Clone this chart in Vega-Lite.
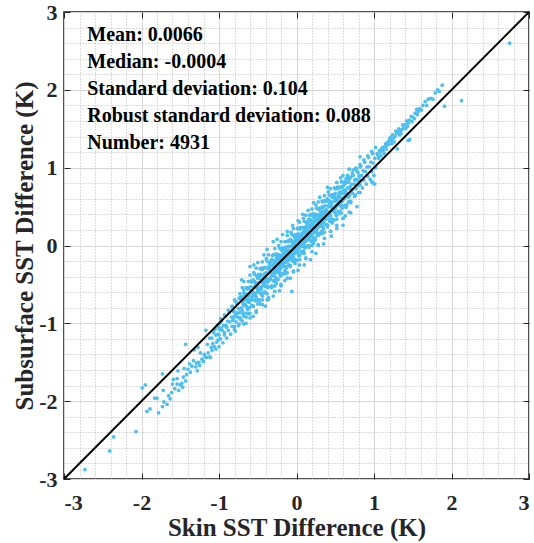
{
  "$schema": "https://vega.github.io/schema/vega-lite/v6.json",
  "width": 465,
  "height": 467,
  "autosize": {"type": "none"},
  "padding": {"left": 64, "top": 12, "right": 5, "bottom": 64},
  "background": "white",
  "config": {
    "view": {"stroke": "#1a1a1a", "strokeWidth": 1.5}
  },
  "datasets": {
    "pts": [
      {"x":-0.60,"y":-0.87},{"x":-0.58,"y":-0.77},{"x":-0.61,"y":-0.71},{"x":-0.58,"y":-0.67},{"x":-0.62,"y":-0.64},{"x":-0.59,"y":-0.60},{"x":-0.62,"y":-0.54},{"x":-0.59,"y":-0.46},
      {"x":-0.56,"y":-0.78},{"x":-0.54,"y":-0.70},{"x":-0.57,"y":-0.65},{"x":-0.54,"y":-0.61},{"x":-0.58,"y":-0.58},{"x":-0.55,"y":-0.53},{"x":-0.58,"y":-0.47},{"x":-0.55,"y":-0.35},
      {"x":-0.52,"y":-0.86},{"x":-0.50,"y":-0.70},{"x":-0.53,"y":-0.63},{"x":-0.50,"y":-0.59},{"x":-0.54,"y":-0.54},{"x":-0.51,"y":-0.50},{"x":-0.54,"y":-0.46},{"x":-0.51,"y":-0.40},
      {"x":-0.48,"y":-0.71},{"x":-0.46,"y":-0.62},{"x":-0.49,"y":-0.57},{"x":-0.46,"y":-0.53},{"x":-0.50,"y":-0.48},{"x":-0.47,"y":-0.43},{"x":-0.50,"y":-0.39},{"x":-0.47,"y":-0.30},
      {"x":-0.44,"y":-0.70},{"x":-0.42,"y":-0.60},{"x":-0.45,"y":-0.54},{"x":-0.42,"y":-0.50},{"x":-0.46,"y":-0.47},{"x":-0.43,"y":-0.43},{"x":-0.46,"y":-0.37},{"x":-0.43,"y":-0.29},
      {"x":-0.40,"y":-0.60},{"x":-0.38,"y":-0.52},{"x":-0.41,"y":-0.47},{"x":-0.38,"y":-0.43},{"x":-0.42,"y":-0.40},{"x":-0.39,"y":-0.35},{"x":-0.42,"y":-0.29},{"x":-0.39,"y":-0.17},
      {"x":-0.36,"y":-0.69},{"x":-0.34,"y":-0.53},{"x":-0.37,"y":-0.46},{"x":-0.34,"y":-0.42},{"x":-0.38,"y":-0.37},{"x":-0.35,"y":-0.33},{"x":-0.38,"y":-0.29},{"x":-0.35,"y":-0.23},
      {"x":-0.32,"y":-0.54},{"x":-0.30,"y":-0.45},{"x":-0.33,"y":-0.40},{"x":-0.30,"y":-0.36},{"x":-0.34,"y":-0.31},{"x":-0.31,"y":-0.26},{"x":-0.34,"y":-0.22},{"x":-0.31,"y":-0.13},
      {"x":-0.28,"y":-0.52},{"x":-0.26,"y":-0.42},{"x":-0.29,"y":-0.36},{"x":-0.26,"y":-0.32},{"x":-0.30,"y":-0.29},{"x":-0.27,"y":-0.25},{"x":-0.30,"y":-0.19},{"x":-0.27,"y":-0.11},
      {"x":-0.24,"y":-0.43},{"x":-0.22,"y":-0.35},{"x":-0.25,"y":-0.30},{"x":-0.22,"y":-0.26},{"x":-0.26,"y":-0.23},{"x":-0.23,"y":-0.18},{"x":-0.26,"y":-0.12},{"x":-0.23,"y":0.00},
      {"x":-0.20,"y":-0.52},{"x":-0.18,"y":-0.36},{"x":-0.21,"y":-0.29},{"x":-0.18,"y":-0.25},{"x":-0.22,"y":-0.20},{"x":-0.19,"y":-0.16},{"x":-0.22,"y":-0.12},{"x":-0.19,"y":-0.06},
      {"x":-0.16,"y":-0.36},{"x":-0.14,"y":-0.27},{"x":-0.17,"y":-0.22},{"x":-0.14,"y":-0.18},{"x":-0.18,"y":-0.13},{"x":-0.15,"y":-0.08},{"x":-0.18,"y":-0.04},{"x":-0.15,"y":0.05},
      {"x":-0.12,"y":-0.35},{"x":-0.10,"y":-0.25},{"x":-0.13,"y":-0.19},{"x":-0.10,"y":-0.15},{"x":-0.14,"y":-0.12},{"x":-0.11,"y":-0.08},{"x":-0.14,"y":-0.02},{"x":-0.11,"y":0.06},
      {"x":-0.08,"y":-0.26},{"x":-0.06,"y":-0.18},{"x":-0.09,"y":-0.13},{"x":-0.06,"y":-0.09},{"x":-0.10,"y":-0.06},{"x":-0.07,"y":-0.01},{"x":-0.10,"y":0.05},{"x":-0.07,"y":0.17},
      {"x":-0.04,"y":-0.34},{"x":-0.02,"y":-0.18},{"x":-0.05,"y":-0.11},{"x":-0.02,"y":-0.07},{"x":-0.06,"y":-0.02},{"x":-0.03,"y":0.02},{"x":-0.06,"y":0.06},{"x":-0.03,"y":0.12},
      {"x":0.00,"y":-0.19},{"x":0.02,"y":-0.10},{"x":-0.01,"y":-0.05},{"x":0.02,"y":-0.01},{"x":-0.02,"y":0.04},{"x":0.01,"y":0.09},{"x":-0.02,"y":0.13},{"x":0.01,"y":0.22},
      {"x":0.04,"y":-0.18},{"x":0.06,"y":-0.08},{"x":0.03,"y":-0.02},{"x":0.06,"y":0.02},{"x":0.02,"y":0.05},{"x":0.05,"y":0.09},{"x":0.02,"y":0.15},{"x":0.05,"y":0.23},
      {"x":0.08,"y":-0.08},{"x":0.10,"y":0.00},{"x":0.07,"y":0.05},{"x":0.10,"y":0.09},{"x":0.06,"y":0.12},{"x":0.09,"y":0.17},{"x":0.06,"y":0.23},{"x":0.09,"y":0.35},
      {"x":0.12,"y":-0.17},{"x":0.14,"y":-0.01},{"x":0.11,"y":0.06},{"x":0.14,"y":0.10},{"x":0.10,"y":0.15},{"x":0.13,"y":0.19},{"x":0.10,"y":0.23},{"x":0.13,"y":0.29},
      {"x":0.16,"y":-0.02},{"x":0.18,"y":0.07},{"x":0.15,"y":0.12},{"x":0.18,"y":0.16},{"x":0.14,"y":0.21},{"x":0.17,"y":0.26},{"x":0.14,"y":0.30},{"x":0.17,"y":0.39},
      {"x":0.20,"y":0.00},{"x":0.22,"y":0.10},{"x":0.19,"y":0.16},{"x":0.22,"y":0.20},{"x":0.18,"y":0.23},{"x":0.21,"y":0.27},{"x":0.18,"y":0.33},{"x":0.21,"y":0.41},
      {"x":0.24,"y":0.09},{"x":0.26,"y":0.17},{"x":0.23,"y":0.22},{"x":0.26,"y":0.26},{"x":0.22,"y":0.29},{"x":0.25,"y":0.34},{"x":0.22,"y":0.40},{"x":0.25,"y":0.52},
      {"x":0.28,"y":0.00},{"x":0.30,"y":0.16},{"x":0.27,"y":0.23},{"x":0.30,"y":0.27},{"x":0.26,"y":0.32},{"x":0.29,"y":0.36},{"x":0.26,"y":0.40},{"x":0.29,"y":0.46},
      {"x":0.32,"y":0.16},{"x":0.34,"y":0.25},{"x":0.31,"y":0.30},{"x":0.34,"y":0.34},{"x":0.30,"y":0.39},{"x":0.33,"y":0.44},{"x":0.30,"y":0.48},{"x":0.33,"y":0.57},
      {"x":0.36,"y":0.17},{"x":0.38,"y":0.27},{"x":0.35,"y":0.33},{"x":0.38,"y":0.37},{"x":0.34,"y":0.40},{"x":0.37,"y":0.44},{"x":0.34,"y":0.50},{"x":0.37,"y":0.58},
      {"x":0.40,"y":0.26},{"x":0.42,"y":0.34},{"x":0.39,"y":0.39},{"x":0.42,"y":0.43},{"x":0.38,"y":0.46},{"x":0.41,"y":0.51},{"x":0.38,"y":0.57},{"x":0.41,"y":0.69},
      {"x":0.44,"y":0.18},{"x":0.46,"y":0.34},{"x":0.43,"y":0.41},{"x":0.46,"y":0.45},{"x":0.42,"y":0.50},{"x":0.45,"y":0.54},{"x":0.42,"y":0.58},{"x":0.45,"y":0.64},
      {"x":0.48,"y":0.33},{"x":0.50,"y":0.42},{"x":0.47,"y":0.47},{"x":0.50,"y":0.51},{"x":0.46,"y":0.56},{"x":0.49,"y":0.61},{"x":0.46,"y":0.65},{"x":0.49,"y":0.74},
      {"x":0.52,"y":0.34},{"x":0.54,"y":0.44},{"x":0.51,"y":0.50},{"x":0.54,"y":0.54},{"x":0.50,"y":0.57},{"x":0.53,"y":0.61},{"x":0.50,"y":0.67},{"x":0.53,"y":0.75},
      {"x":0.56,"y":0.44},{"x":0.58,"y":0.52},{"x":0.55,"y":0.57},{"x":0.58,"y":0.61},{"x":0.54,"y":0.64},{"x":0.57,"y":0.69},{"x":0.54,"y":0.75},{"x":0.57,"y":0.87},
      {"x":0.60,"y":0.35},{"x":0.62,"y":0.51},{"x":0.59,"y":0.58},{"x":0.62,"y":0.62},{"x":0.58,"y":0.67},{"x":0.61,"y":0.71},{"x":0.58,"y":0.75},{"x":0.61,"y":0.81},
      {"x":-0.27,"y":-0.45},{"x":-0.29,"y":-0.39},{"x":-0.26,"y":-0.35},{"x":-0.28,"y":-0.32},{"x":-0.27,"y":-0.29},{"x":-0.29,"y":-0.25},{"x":-0.26,"y":-0.20},
      {"x":-0.21,"y":-0.39},{"x":-0.23,"y":-0.33},{"x":-0.20,"y":-0.29},{"x":-0.22,"y":-0.26},{"x":-0.21,"y":-0.23},{"x":-0.23,"y":-0.19},{"x":-0.20,"y":-0.14},
      {"x":-0.15,"y":-0.32},{"x":-0.17,"y":-0.26},{"x":-0.14,"y":-0.22},{"x":-0.16,"y":-0.19},{"x":-0.15,"y":-0.16},{"x":-0.17,"y":-0.12},{"x":-0.14,"y":-0.07},
      {"x":-0.09,"y":-0.26},{"x":-0.11,"y":-0.20},{"x":-0.08,"y":-0.16},{"x":-0.10,"y":-0.13},{"x":-0.09,"y":-0.10},{"x":-0.11,"y":-0.06},{"x":-0.08,"y":-0.01},
      {"x":-0.03,"y":-0.20},{"x":-0.05,"y":-0.14},{"x":-0.02,"y":-0.10},{"x":-0.04,"y":-0.07},{"x":-0.03,"y":-0.04},{"x":-0.05,"y":0.00},{"x":-0.02,"y":0.06},
      {"x":0.03,"y":-0.13},{"x":0.01,"y":-0.07},{"x":0.04,"y":-0.03},{"x":0.02,"y":0.00},{"x":0.03,"y":0.03},{"x":0.01,"y":0.07},{"x":0.04,"y":0.12},
      {"x":0.09,"y":-0.07},{"x":0.07,"y":-0.01},{"x":0.10,"y":0.04},{"x":0.08,"y":0.07},{"x":0.09,"y":0.10},{"x":0.07,"y":0.14},{"x":0.10,"y":0.19},
      {"x":0.15,"y":0.00},{"x":0.13,"y":0.06},{"x":0.16,"y":0.10},{"x":0.14,"y":0.13},{"x":0.15,"y":0.16},{"x":0.13,"y":0.20},{"x":0.16,"y":0.25},
      {"x":0.21,"y":0.06},{"x":0.19,"y":0.12},{"x":0.22,"y":0.16},{"x":0.20,"y":0.19},{"x":0.21,"y":0.22},{"x":0.19,"y":0.26},{"x":0.22,"y":0.31},
      {"x":0.27,"y":0.13},{"x":0.25,"y":0.19},{"x":0.28,"y":0.23},{"x":0.26,"y":0.26},{"x":0.27,"y":0.29},{"x":0.25,"y":0.33},{"x":0.28,"y":0.38},
      {"x":0.33,"y":0.19},{"x":0.31,"y":0.25},{"x":0.34,"y":0.29},{"x":0.32,"y":0.32},{"x":0.33,"y":0.35},{"x":0.31,"y":0.39},{"x":0.34,"y":0.44},
      {"x":-0.80,"y":-1.04},{"x":-0.82,"y":-0.96},{"x":-0.79,"y":-0.90},{"x":-0.81,"y":-0.85},{"x":-0.83,"y":-0.79},{"x":-0.80,"y":-0.70},
      {"x":-0.74,"y":-1.01},{"x":-0.76,"y":-0.92},{"x":-0.73,"y":-0.86},{"x":-0.75,"y":-0.81},{"x":-0.77,"y":-0.75},{"x":-0.74,"y":-0.68},
      {"x":-0.68,"y":-0.91},{"x":-0.70,"y":-0.83},{"x":-0.67,"y":-0.77},{"x":-0.69,"y":-0.72},{"x":-0.71,"y":-0.66},{"x":-0.68,"y":-0.57},
      {"x":-0.62,"y":-0.88},{"x":-0.64,"y":-0.79},{"x":-0.61,"y":-0.73},{"x":-0.63,"y":-0.68},{"x":-0.65,"y":-0.62},{"x":-0.62,"y":-0.55},
      {"x":-0.56,"y":-0.78},{"x":-0.58,"y":-0.70},{"x":-0.55,"y":-0.64},{"x":-0.57,"y":-0.59},{"x":-0.59,"y":-0.53},{"x":-0.56,"y":-0.44},
      {"x":-0.50,"y":-0.75},{"x":-0.52,"y":-0.66},{"x":-0.49,"y":-0.60},{"x":-0.51,"y":-0.55},{"x":-0.53,"y":-0.49},{"x":-0.50,"y":-0.42},
      {"x":-0.44,"y":-0.65},{"x":-0.46,"y":-0.57},{"x":-0.43,"y":-0.51},{"x":-0.45,"y":-0.46},{"x":-0.47,"y":-0.40},{"x":-0.44,"y":-0.31},
      {"x":-0.38,"y":-0.62},{"x":-0.40,"y":-0.53},{"x":-0.37,"y":-0.47},{"x":-0.39,"y":-0.42},{"x":-0.41,"y":-0.36},{"x":-0.38,"y":-0.29},
      {"x":-0.32,"y":-0.52},{"x":-0.34,"y":-0.44},{"x":-0.31,"y":-0.38},{"x":-0.33,"y":-0.33},{"x":-0.35,"y":-0.27},{"x":-0.32,"y":-0.18},
      {"x":-0.26,"y":-0.49},{"x":-0.28,"y":-0.40},{"x":-0.25,"y":-0.34},{"x":-0.27,"y":-0.29},{"x":-0.29,"y":-0.23},{"x":-0.26,"y":-0.16},
      {"x":-0.20,"y":-0.39},{"x":-0.22,"y":-0.31},{"x":-0.19,"y":-0.25},{"x":-0.21,"y":-0.20},{"x":-0.23,"y":-0.14},{"x":-0.20,"y":-0.05},
      {"x":-0.14,"y":-0.36},{"x":-0.16,"y":-0.27},{"x":-0.13,"y":-0.21},{"x":-0.15,"y":-0.16},{"x":-0.17,"y":-0.10},{"x":-0.14,"y":-0.03},
      {"x":-0.08,"y":-0.26},{"x":-0.10,"y":-0.18},{"x":-0.07,"y":-0.12},{"x":-0.09,"y":-0.07},{"x":-0.11,"y":-0.01},{"x":-0.08,"y":0.08},
      {"x":-0.02,"y":-0.23},{"x":-0.04,"y":-0.14},{"x":-0.01,"y":-0.08},{"x":-0.03,"y":-0.03},{"x":-0.05,"y":0.03},{"x":-0.02,"y":0.10},
      {"x":0.04,"y":-0.13},{"x":0.02,"y":-0.05},{"x":0.05,"y":0.01},{"x":0.03,"y":0.06},{"x":0.01,"y":0.12},{"x":0.04,"y":0.21},
      {"x":0.10,"y":-0.10},{"x":0.08,"y":-0.01},{"x":0.11,"y":0.05},{"x":0.09,"y":0.10},{"x":0.07,"y":0.16},{"x":0.10,"y":0.23},
      {"x":0.16,"y":0.00},{"x":0.14,"y":0.08},{"x":0.17,"y":0.14},{"x":0.15,"y":0.19},{"x":0.13,"y":0.25},{"x":0.16,"y":0.34},
      {"x":0.22,"y":0.03},{"x":0.20,"y":0.12},{"x":0.23,"y":0.18},{"x":0.21,"y":0.23},{"x":0.19,"y":0.29},{"x":0.22,"y":0.36},
      {"x":0.28,"y":0.13},{"x":0.26,"y":0.21},{"x":0.29,"y":0.27},{"x":0.27,"y":0.32},{"x":0.25,"y":0.38},{"x":0.28,"y":0.47},
      {"x":0.34,"y":0.16},{"x":0.32,"y":0.25},{"x":0.35,"y":0.31},{"x":0.33,"y":0.36},{"x":0.31,"y":0.42},{"x":0.34,"y":0.49},
      {"x":0.40,"y":0.26},{"x":0.38,"y":0.34},{"x":0.41,"y":0.40},{"x":0.39,"y":0.45},{"x":0.37,"y":0.51},{"x":0.40,"y":0.60},
      {"x":0.46,"y":0.29},{"x":0.44,"y":0.38},{"x":0.47,"y":0.44},{"x":0.45,"y":0.49},{"x":0.43,"y":0.55},{"x":0.46,"y":0.62},
      {"x":0.52,"y":0.39},{"x":0.50,"y":0.47},{"x":0.53,"y":0.53},{"x":0.51,"y":0.58},{"x":0.49,"y":0.64},{"x":0.52,"y":0.73},
      {"x":0.58,"y":0.42},{"x":0.56,"y":0.51},{"x":0.59,"y":0.57},{"x":0.57,"y":0.62},{"x":0.55,"y":0.68},{"x":0.58,"y":0.75},
      {"x":0.64,"y":0.52},{"x":0.62,"y":0.60},{"x":0.65,"y":0.66},{"x":0.63,"y":0.71},{"x":0.61,"y":0.77},{"x":0.64,"y":0.86},
      {"x":0.70,"y":0.55},{"x":0.68,"y":0.64},{"x":0.71,"y":0.70},{"x":0.69,"y":0.75},{"x":0.67,"y":0.81},{"x":0.70,"y":0.88},
      {"x":0.76,"y":0.65},{"x":0.74,"y":0.73},{"x":0.77,"y":0.79},{"x":0.75,"y":0.84},{"x":0.73,"y":0.90},{"x":0.76,"y":0.99},
      {"x":0.82,"y":0.68},{"x":0.80,"y":0.77},{"x":0.83,"y":0.83},{"x":0.81,"y":0.88},{"x":0.79,"y":0.94},{"x":0.82,"y":1.01},
      {"x":-0.68,"y":-1.01},{"x":-0.72,"y":-0.95},{"x":-0.69,"y":-0.88},{"x":-0.71,"y":-0.80},{"x":-0.67,"y":-0.69},{"x":-0.73,"y":-0.62},{"x":-0.70,"y":-0.54},{"x":-0.68,"y":-0.46},
      {"x":-0.60,"y":-0.93},{"x":-0.64,"y":-0.87},{"x":-0.61,"y":-0.80},{"x":-0.63,"y":-0.72},{"x":-0.59,"y":-0.61},{"x":-0.65,"y":-0.54},{"x":-0.62,"y":-0.46},{"x":-0.60,"y":-0.38},
      {"x":-0.52,"y":-0.84},{"x":-0.56,"y":-0.78},{"x":-0.53,"y":-0.71},{"x":-0.55,"y":-0.63},{"x":-0.51,"y":-0.52},{"x":-0.57,"y":-0.45},{"x":-0.54,"y":-0.37},{"x":-0.52,"y":-0.29},
      {"x":-0.44,"y":-0.76},{"x":-0.48,"y":-0.70},{"x":-0.45,"y":-0.63},{"x":-0.47,"y":-0.55},{"x":-0.43,"y":-0.44},{"x":-0.49,"y":-0.37},{"x":-0.46,"y":-0.29},{"x":-0.44,"y":-0.21},
      {"x":-0.36,"y":-0.67},{"x":-0.40,"y":-0.61},{"x":-0.37,"y":-0.54},{"x":-0.39,"y":-0.46},{"x":-0.35,"y":-0.35},{"x":-0.41,"y":-0.28},{"x":-0.38,"y":-0.20},{"x":-0.36,"y":-0.12},
      {"x":-0.28,"y":-0.59},{"x":-0.32,"y":-0.53},{"x":-0.29,"y":-0.46},{"x":-0.31,"y":-0.38},{"x":-0.27,"y":-0.27},{"x":-0.33,"y":-0.20},{"x":-0.30,"y":-0.12},{"x":-0.28,"y":-0.04},
      {"x":-0.20,"y":-0.50},{"x":-0.24,"y":-0.44},{"x":-0.21,"y":-0.37},{"x":-0.23,"y":-0.29},{"x":-0.19,"y":-0.18},{"x":-0.25,"y":-0.11},{"x":-0.22,"y":-0.03},{"x":-0.20,"y":0.05},
      {"x":-0.12,"y":-0.42},{"x":-0.16,"y":-0.36},{"x":-0.13,"y":-0.29},{"x":-0.15,"y":-0.21},{"x":-0.11,"y":-0.10},{"x":-0.17,"y":-0.03},{"x":-0.14,"y":0.05},{"x":-0.12,"y":0.13},
      {"x":-0.04,"y":-0.33},{"x":-0.08,"y":-0.27},{"x":-0.05,"y":-0.20},{"x":-0.07,"y":-0.12},{"x":-0.03,"y":-0.01},{"x":-0.09,"y":0.06},{"x":-0.06,"y":0.14},{"x":-0.04,"y":0.22},
      {"x":0.04,"y":-0.25},{"x":0.00,"y":-0.19},{"x":0.03,"y":-0.12},{"x":0.01,"y":-0.04},{"x":0.05,"y":0.07},{"x":-0.01,"y":0.14},{"x":0.02,"y":0.22},{"x":0.04,"y":0.30},
      {"x":0.12,"y":-0.16},{"x":0.08,"y":-0.10},{"x":0.11,"y":-0.03},{"x":0.09,"y":0.05},{"x":0.13,"y":0.16},{"x":0.07,"y":0.23},{"x":0.10,"y":0.31},{"x":0.12,"y":0.39},
      {"x":0.20,"y":-0.08},{"x":0.16,"y":-0.02},{"x":0.19,"y":0.05},{"x":0.17,"y":0.13},{"x":0.21,"y":0.24},{"x":0.15,"y":0.31},{"x":0.18,"y":0.39},{"x":0.20,"y":0.47},
      {"x":0.28,"y":0.01},{"x":0.24,"y":0.07},{"x":0.27,"y":0.14},{"x":0.25,"y":0.22},{"x":0.29,"y":0.33},{"x":0.23,"y":0.40},{"x":0.26,"y":0.48},{"x":0.28,"y":0.56},
      {"x":0.36,"y":0.09},{"x":0.32,"y":0.15},{"x":0.35,"y":0.22},{"x":0.33,"y":0.30},{"x":0.37,"y":0.41},{"x":0.31,"y":0.48},{"x":0.34,"y":0.56},{"x":0.36,"y":0.64},
      {"x":0.44,"y":0.18},{"x":0.40,"y":0.24},{"x":0.43,"y":0.31},{"x":0.41,"y":0.39},{"x":0.45,"y":0.50},{"x":0.39,"y":0.57},{"x":0.42,"y":0.65},{"x":0.44,"y":0.73},
      {"x":0.52,"y":0.26},{"x":0.48,"y":0.32},{"x":0.51,"y":0.39},{"x":0.49,"y":0.47},{"x":0.53,"y":0.58},{"x":0.47,"y":0.65},{"x":0.50,"y":0.73},{"x":0.52,"y":0.81},
      {"x":0.60,"y":0.35},{"x":0.56,"y":0.41},{"x":0.59,"y":0.48},{"x":0.57,"y":0.56},{"x":0.61,"y":0.67},{"x":0.55,"y":0.74},{"x":0.58,"y":0.82},{"x":0.60,"y":0.90},
      {"x":0.68,"y":0.43},{"x":0.64,"y":0.49},{"x":0.67,"y":0.56},{"x":0.65,"y":0.64},{"x":0.69,"y":0.75},{"x":0.63,"y":0.82},{"x":0.66,"y":0.90},{"x":0.68,"y":0.98},
      {"x":-0.55,"y":-0.25},{"x":-0.50,"y":-0.22},{"x":-0.42,"y":-0.12},{"x":-0.38,"y":-0.05},{"x":-0.30,"y":0.05},{"x":-0.25,"y":0.08},{"x":-0.18,"y":0.14},{"x":-0.12,"y":0.18},{"x":-0.05,"y":0.26},{"x":0.02,"y":0.32},{"x":0.08,"y":0.40},{"x":0.15,"y":0.45},{"x":0.22,"y":0.55},{"x":0.30,"y":0.62},{"x":0.40,"y":0.75},
      {"x":-0.40,"y":-0.78},{"x":-0.30,"y":-0.65},{"x":-0.22,"y":-0.58},{"x":-0.15,"y":-0.45},{"x":-0.08,"y":-0.42},{"x":0.02,"y":-0.32},{"x":0.10,"y":-0.25},{"x":0.18,"y":-0.18},{"x":0.25,"y":-0.10},{"x":0.35,"y":0.02},{"x":0.45,"y":0.12},{"x":0.52,"y":0.22},{"x":0.70,"y":0.42},{"x":0.78,"y":0.50},{"x":-0.65,"y":-1.00},
      {"x":-0.65,"y":-0.92},{"x":-0.63,"y":-0.82},{"x":-0.66,"y":-0.76},{"x":-0.64,"y":-0.70},{"x":-0.67,"y":-0.64},{"x":-0.63,"y":-0.56},
      {"x":-0.70,"y":-0.97},{"x":-0.68,"y":-0.87},{"x":-0.71,"y":-0.81},{"x":-0.69,"y":-0.75},{"x":-0.72,"y":-0.69},{"x":-0.68,"y":-0.61},
      {"x":-0.75,"y":-1.03},{"x":-0.73,"y":-0.93},{"x":-0.76,"y":-0.87},{"x":-0.74,"y":-0.81},{"x":-0.77,"y":-0.75},{"x":-0.73,"y":-0.67},
      {"x":-0.80,"y":-1.08},{"x":-0.78,"y":-0.98},{"x":-0.81,"y":-0.92},{"x":-0.79,"y":-0.86},{"x":-0.82,"y":-0.80},{"x":-0.78,"y":-0.72},
      {"x":-0.85,"y":-1.14},{"x":-0.83,"y":-1.04},{"x":-0.86,"y":-0.98},{"x":-0.84,"y":-0.92},{"x":-0.87,"y":-0.86},{"x":-0.83,"y":-0.78},
      {"x":-0.90,"y":-1.19},{"x":-0.88,"y":-1.09},{"x":-0.91,"y":-1.03},{"x":-0.89,"y":-0.97},{"x":-0.92,"y":-0.91},{"x":-0.88,"y":-0.83},
      {"x":-0.95,"y":-1.25},{"x":-0.93,"y":-1.15},{"x":-0.96,"y":-1.09},{"x":-0.94,"y":-1.03},{"x":-0.97,"y":-0.97},{"x":-0.93,"y":-0.89},
      {"x":-1.00,"y":-1.30},{"x":-0.98,"y":-1.20},{"x":-1.01,"y":-1.14},{"x":-0.99,"y":-1.08},{"x":-1.02,"y":-1.02},{"x":-0.98,"y":-0.94},
      {"x":0.65,"y":0.52},{"x":0.67,"y":0.62},{"x":0.64,"y":0.68},{"x":0.66,"y":0.74},{"x":0.63,"y":0.80},{"x":0.67,"y":0.88},
      {"x":0.70,"y":0.57},{"x":0.72,"y":0.67},{"x":0.69,"y":0.73},{"x":0.71,"y":0.79},{"x":0.68,"y":0.85},{"x":0.72,"y":0.93},
      {"x":0.75,"y":0.63},{"x":0.77,"y":0.73},{"x":0.74,"y":0.79},{"x":0.76,"y":0.85},{"x":0.73,"y":0.91},{"x":0.77,"y":0.99},
      {"x":0.80,"y":0.68},{"x":0.82,"y":0.78},{"x":0.79,"y":0.84},{"x":0.81,"y":0.90},{"x":0.78,"y":0.96},{"x":0.82,"y":1.04},
      {"x":0.85,"y":0.74},{"x":0.87,"y":0.84},{"x":0.84,"y":0.90},{"x":0.86,"y":0.96},{"x":0.83,"y":1.02},{"x":0.87,"y":1.10},
      {"x":0.90,"y":0.79},{"x":0.92,"y":0.89},{"x":0.89,"y":0.95},{"x":0.91,"y":1.01},{"x":0.88,"y":1.07},{"x":0.92,"y":1.15},
      {"x":0.95,"y":0.85},{"x":0.97,"y":0.95},{"x":0.94,"y":1.01},{"x":0.96,"y":1.07},{"x":0.93,"y":1.13},{"x":0.97,"y":1.21},
      {"x":1.00,"y":0.90},{"x":1.02,"y":1.00},{"x":0.99,"y":1.06},{"x":1.01,"y":1.12},{"x":0.98,"y":1.18},{"x":1.02,"y":1.26},
      {"x":1.08,"y":1.20},{"x":1.10,"y":1.24},{"x":1.12,"y":1.22},{"x":1.14,"y":1.27},{"x":1.17,"y":1.29},{"x":1.05,"y":1.16},{"x":1.06,"y":1.12},{"x":1.09,"y":1.15},{"x":1.13,"y":1.18},
      {"x":1.18,"y":1.33},{"x":1.20,"y":1.36},{"x":1.22,"y":1.35},{"x":1.25,"y":1.38},{"x":1.19,"y":1.30},{"x":1.23,"y":1.31},
      {"x":1.27,"y":1.40},{"x":1.29,"y":1.44},{"x":1.31,"y":1.46},{"x":1.33,"y":1.42},{"x":1.36,"y":1.49},{"x":1.30,"y":1.24},{"x":1.34,"y":1.47},
      {"x":1.38,"y":1.51},{"x":1.40,"y":1.55},{"x":1.43,"y":1.53},{"x":1.44,"y":1.57},{"x":1.46,"y":1.61},{"x":1.49,"y":1.59},{"x":1.44,"y":1.35},{"x":1.46,"y":1.36},
      {"x":1.50,"y":1.65},{"x":1.53,"y":1.70},{"x":1.56,"y":1.68},{"x":1.59,"y":1.76},{"x":1.61,"y":1.74},{"x":1.57,"y":1.72},
      {"x":1.04,"y":1.18},{"x":1.07,"y":1.22},{"x":1.11,"y":1.26},{"x":1.15,"y":1.31},{"x":1.16,"y":1.24},{"x":1.21,"y":1.39},{"x":1.24,"y":1.42},{"x":1.26,"y":1.33},{"x":1.28,"y":1.47},{"x":1.32,"y":1.50},{"x":1.35,"y":1.44},{"x":1.37,"y":1.55},{"x":1.41,"y":1.50},{"x":1.42,"y":1.60},{"x":1.48,"y":1.66},{"x":1.52,"y":1.63},{"x":1.55,"y":1.75},{"x":1.63,"y":1.80},{"x":1.66,"y":1.85},{"x":1.68,"y":1.80},
      {"x":1.70,"y":1.88},{"x":1.73,"y":1.89},{"x":1.76,"y":1.88},{"x":1.79,"y":1.96},{"x":1.82,"y":2.00},{"x":1.84,"y":1.98},{"x":1.88,"y":2.06},{"x":1.91,"y":1.79},{"x":2.13,"y":1.86},{"x":2.75,"y":2.60},
      {"x":0.99,"y":0.80},{"x":1.01,"y":0.79},{"x":0.97,"y":0.82},{"x":0.82,"y":1.14},{"x":0.73,"y":0.97},{"x":0.65,"y":0.86},{"x":0.63,"y":0.38},{"x":0.60,"y":0.26},
      {"x":-0.79,"y":-1.10},{"x":-0.56,"y":-0.91},{"x":-0.38,"y":-0.70},{"x":-0.47,"y":-0.75},{"x":-0.71,"y":-0.44},{"x":-0.60,"y":-0.27},{"x":-0.06,"y":-0.59},
      {"x":-1.05,"y":-1.08},{"x":-1.07,"y":-1.12},{"x":-0.97,"y":-1.06},{"x":-1.00,"y":-1.15},{"x":-0.93,"y":-1.12},{"x":-0.90,"y":-1.05},
      {"x":-1.04,"y":-1.15},{"x":-1.08,"y":-1.26},{"x":-1.10,"y":-1.31},{"x":-1.14,"y":-1.38},{"x":-1.15,"y":-1.27},{"x":-1.19,"y":-1.40},{"x":-1.22,"y":-1.46},{"x":-1.24,"y":-1.38},{"x":-1.26,"y":-1.50},{"x":-1.30,"y":-1.56},{"x":-1.33,"y":-1.48},{"x":-1.37,"y":-1.63},{"x":-1.38,"y":-1.52},{"x":-1.42,"y":-1.66},{"x":-1.45,"y":-1.58},{"x":-1.47,"y":-1.82},{"x":-1.52,"y":-1.86},{"x":-1.57,"y":-1.84},{"x":-1.60,"y":-1.78},{"x":-1.65,"y":-1.93},
      {"x":-1.01,"y":-1.05},{"x":-0.99,"y":-1.00},{"x":-1.03,"y":-1.24},{"x":-1.01,"y":-1.21},{"x":-1.04,"y":-1.33},{"x":-1.06,"y":-1.30},{"x":-1.09,"y":-1.35},{"x":-1.09,"y":-1.19},{"x":-1.12,"y":-1.19},
      {"x":-1.11,"y":-1.44},{"x":-1.12,"y":-1.43},{"x":-1.16,"y":-1.44},{"x":-1.18,"y":-1.43},{"x":-1.17,"y":-1.09},{"x":-1.20,"y":-1.49},{"x":-1.25,"y":-1.54},{"x":-1.27,"y":-1.31},{"x":-1.28,"y":-1.61},{"x":-1.32,"y":-1.34},{"x":-1.29,"y":-1.51},{"x":-1.35,"y":-1.55},{"x":-1.40,"y":-1.59},{"x":-1.43,"y":-1.27},
      {"x":-1.43,"y":-1.74},{"x":-1.46,"y":-1.69},{"x":-1.48,"y":-1.77},{"x":-1.50,"y":-1.79},{"x":-1.54,"y":-1.78},{"x":-1.54,"y":-1.71},{"x":-1.59,"y":-1.72},{"x":-1.53,"y":-1.61},{"x":-1.61,"y":-1.89},{"x":-1.63,"y":-1.97},{"x":-1.67,"y":-2.04},{"x":-1.71,"y":-2.01},{"x":-1.73,"y":-2.07},{"x":-1.72,"y":-1.86},{"x":-1.73,"y":-1.65},{"x":-1.78,"y":-2.15},{"x":-1.80,"y":-1.96},{"x":-1.83,"y":-1.96},{"x":-1.89,"y":-2.10},{"x":-1.93,"y":-2.13},{"x":-1.95,"y":-1.79},{"x":-1.99,"y":-1.83},{"x":-2.07,"y":-2.39},{"x":-2.36,"y":-2.46},{"x":-2.41,"y":-2.64},{"x":-2.73,"y":-2.88}
    ],
    "diag": [{"x": -3, "y": -3}, {"x": 3, "y": 3}],
    "stats": [
      {"x": -2.7, "y": 2.63, "label": "Mean: 0.0066"},
      {"x": -2.7, "y": 2.28, "label": "Median: -0.0004"},
      {"x": -2.7, "y": 1.94, "label": "Standard deviation: 0.104"},
      {"x": -2.7, "y": 1.59, "label": "Robust standard deviation: 0.088"},
      {"x": -2.7, "y": 1.24, "label": "Number: 4931"}
    ]
  },
  "layer": [
    {
      "data": {"name": "pts"},
      "mark": {"type": "point", "filled": true, "shape": "circle", "size": 14, "color": "#4DBEEE", "opacity": 1, "strokeWidth": 0},
      "encoding": {
        "x": {"field": "x", "type": "quantitative", "scale": {"domain": [-3, 3], "nice": false, "zero": false},
          "axis": {"orient": "bottom", "values": [-3,-2.8,-2.6,-2.4,-2.2,-2,-1.8,-1.6,-1.4,-1.2,-1,-0.8,-0.6,-0.4,-0.2,0,0.2,0.4,0.6,0.8,1,1.2,1.4,1.6,1.8,2,2.2,2.4,2.6,2.8,3],
            "grid": true, "gridDash": {"condition": {"test": "abs(datum.value - round(datum.value)) < 0.001", "value": []}, "value": [1, 2]},
            "gridColor": {"condition": {"test": "abs(datum.value - round(datum.value)) < 0.001", "value": "#d6d6d6"}, "value": "#b8b8b8"},
            "gridWidth": 1, "labels": false, "ticks": false, "domain": false, "title": null}},
        "y": {"field": "y", "type": "quantitative", "scale": {"domain": [-3, 3], "nice": false, "zero": false},
          "axis": {"orient": "left", "values": [-3,-2.8,-2.6,-2.4,-2.2,-2,-1.8,-1.6,-1.4,-1.2,-1,-0.8,-0.6,-0.4,-0.2,0,0.2,0.4,0.6,0.8,1,1.2,1.4,1.6,1.8,2,2.2,2.4,2.6,2.8,3],
            "grid": true, "gridDash": {"condition": {"test": "abs(datum.value - round(datum.value)) < 0.001", "value": []}, "value": [1, 2]},
            "gridColor": {"condition": {"test": "abs(datum.value - round(datum.value)) < 0.001", "value": "#d6d6d6"}, "value": "#b8b8b8"},
            "gridWidth": 1, "labels": false, "ticks": false, "domain": false, "title": null}}
      }
    },
    {
      "data": {"name": "diag"},
      "mark": {"type": "line", "color": "#000000", "strokeWidth": 2},
      "encoding": {
        "x": {"field": "x", "type": "quantitative",
          "axis": {"orient": "bottom", "values": [-3,-2,-1,0,1,2,3], "grid": false, "domain": false, "ticks": true, "tickSize": -6, "tickColor": "#262626", "labelPadding": 19, "labelExpr": "'' + datum.value",
            "labelFont": "Liberation Serif", "labelFontSize": 22, "labelFontWeight": "bold", "labelColor": "#262626",
            "title": "Skin SST Difference (K)", "titleFont": "Liberation Serif", "titleFontSize": 25, "titleFontWeight": "bold", "titleColor": "#262626", "titlePadding": 2}},
        "y": {"field": "y", "type": "quantitative",
          "axis": {"orient": "left", "values": [-3,-2,-1,0,1,2,3], "grid": false, "domain": false, "ticks": true, "tickSize": -6, "tickColor": "#262626", "labelPadding": 13, "labelExpr": "'' + datum.value",
            "labelFont": "Liberation Serif", "labelFontSize": 22, "labelFontWeight": "bold", "labelColor": "#262626",
            "title": "Subsurface SST Difference (K)", "titleFont": "Liberation Serif", "titleFontSize": 25, "titleFontWeight": "bold", "titleColor": "#262626", "titlePadding": 1}}
      }
    },
    {
      "data": {"name": "stats"},
      "mark": {"type": "text", "align": "left", "baseline": "alphabetic", "font": "Liberation Serif", "fontWeight": "bold", "fontSize": 20, "color": "#000000"},
      "encoding": {
        "x": {"field": "x", "type": "quantitative",
          "axis": {"orient": "top", "values": [-3,-2,-1,0,1,2,3], "grid": false, "domain": false, "ticks": true, "tickSize": -6, "tickColor": "#262626", "labels": false, "title": null}},
        "y": {"field": "y", "type": "quantitative",
          "axis": {"orient": "right", "values": [-3,-2,-1,0,1,2,3], "grid": false, "domain": false, "ticks": true, "tickSize": -6, "tickColor": "#262626", "labels": false, "title": null}},
        "text": {"field": "label", "type": "nominal"}
      }
    }
  ],
  "resolve": {"axis": {"x": "independent", "y": "independent"}}
}
